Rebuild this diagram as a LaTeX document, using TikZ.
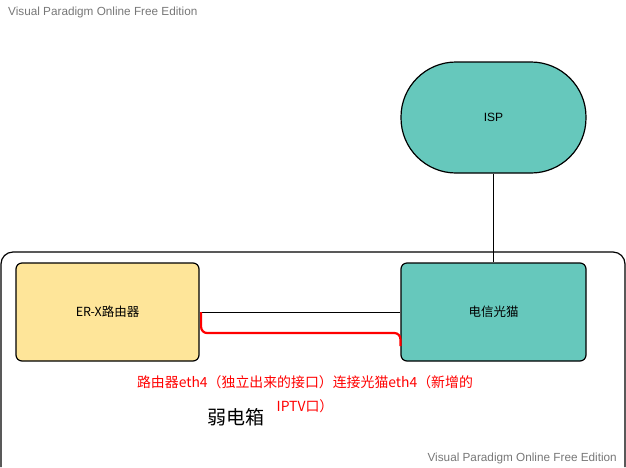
\documentclass[tikz,border=0pt]{standalone}
\usepackage{fontspec}
\setmainfont{Liberation Sans}
\newfontfamily\cjk{Noto Sans CJK SC}
\usetikzlibrary{positioning,calc}
\definecolor{teal1}{HTML}{66C8BC}
\definecolor{yel1}{HTML}{FEE599}
\definecolor{wm}{HTML}{777777}
\begin{document}
\begin{tikzpicture}[x=1pt,y=-1pt,
  box/.style={draw=black, line width=1.2pt, rounded corners=6pt, minimum width=185pt, minimum height=98pt, inner sep=0pt},
  lbl/.style={font=\cjk\fontsize{12.5}{14}\selectfont},
  wmark/.style={text=wm, font=\fontsize{11.75}{13}\selectfont, inner sep=0pt}]
\useasboundingbox (0,0) rectangle (626,467);
% container
\draw[line width=1.2pt, rounded corners=12pt] (1,467) -- (1,252) -- (625,252) -- (625,467);
\node[wmark, anchor=west] (wm1) at (8,12) {Visual Paradigm Online Free Edition};
\node[wmark, anchor=east] (wm2) at (617,458) {Visual Paradigm Online Free Edition};
% nodes
\node[box, fill=yel1, minimum width=183pt] (erx) at (107.5,312) {};
\node[lbl] at (erx.center) {ER-X路由器};
\node[box, fill=teal1] (modem) at (493.5,312) {};
\node[lbl] at (modem.center) {电信光猫};
\node[draw=black, line width=1.2pt, fill=teal1, rounded corners=55pt, minimum width=185pt, minimum height=111pt, inner sep=0pt] (isp) at (493.5,117.5) {};
\node[font=\fontsize{12}{14}\selectfont] at (isp.center) {ISP};
% connectors
\draw[line width=0.7pt] (isp.south) -- (modem.north);
\draw[line width=0.7pt] (erx.east) -- (modem.west);
\draw[red, line width=2.2pt, rounded corners=6pt] ($(erx.east)+(1.5,0)$) -- ++(0,21) -- ($(modem.west)+(0,21)$) -- ($(modem.west)+(0,34)$);
% texts
\node[text=red, font=\cjk\fontsize{13.9}{24}\selectfont, align=center, inner sep=0pt] (note) at (305,394) {路由器eth4（独立出来的接口）连接光猫eth4（新增的\\IPTV口）};
\node[font=\cjk\fontsize{19}{22}\selectfont, inner sep=0pt] (box) at (236,417) {弱电箱};
\end{tikzpicture}
\end{document}
